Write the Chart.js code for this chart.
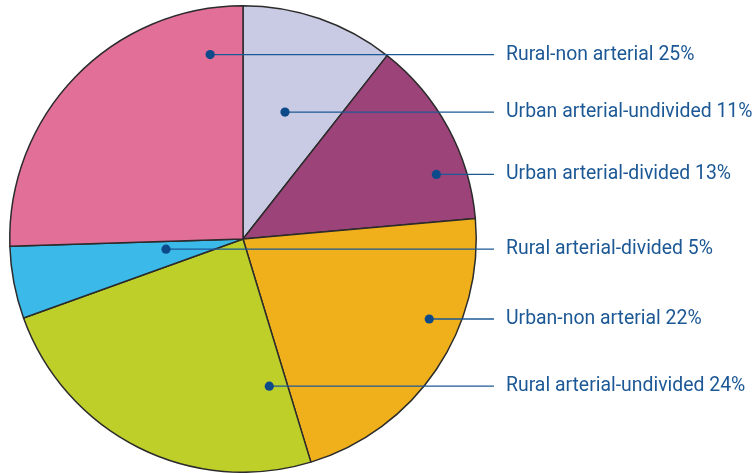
<!DOCTYPE html>
<html>
<head>
<meta charset="utf-8">
<script src="https://cdn.jsdelivr.net/npm/chart.js@4.4.1/dist/chart.umd.min.js"></script>
<style>
  html, body { margin: 0; padding: 0; background: #ffffff; }
  #wrap { width: 754px; height: 473px; position: relative; }
</style>
</head>
<body>
<div id="wrap"><canvas id="crashChart"></canvas></div>
<script>
// Crash share by road type
const categories = [
    'Urban arterial-undivided',
    'Urban arterial-divided',
    'Urban-non arterial',
    'Rural arterial-undivided',
    'Rural arterial-divided',
    'Rural-non arterial'
];
// slice sizes as drawn (%), and the rounded values printed in the labels
const shares = [10.6, 13.0, 21.7, 24.2, 5.0, 25.5];
const labelPercents = [11, 13, 22, 24, 5, 25];
const sliceColors = ['#c9cae3', '#9c4379', '#f0b01b', '#bfcf2a', '#3bb9e9', '#e16f98'];

// order in which labels are stacked on the right
const labelOrder = [5, 0, 1, 4, 2, 3];

// where the leader dot sits inside each slice: [fraction of slice angle, fraction of radius]
const dotPlacement = [
    [0.48, 0.573],
    [0.713, 0.874],
    [0.362, 0.869],
    [0.078, 0.641],
    [0.68, 0.333],
    [0.89, 0.803]
];

const LABEL_X = 506;
const LINE_END_X = 494;
const TEXT_SCALE = 0.97;
const navy = '#1c5895';

const leaderLabels = {
    id: 'leaderLabels',
    afterDatasetsDraw(chart) {
        const ctx = chart.ctx;
        const arcs = chart.getDatasetMeta(0).data;
        ctx.save();
        labelOrder.forEach(i => {
            const p = arcs[i].getProps(['x', 'y', 'startAngle', 'endAngle', 'outerRadius'], true);
            const [af, rf] = dotPlacement[i];
            const ang = p.startAngle + (p.endAngle - p.startAngle) * af;
            const dx = p.x + Math.cos(ang) * p.outerRadius * rf;
            const dy = p.y + Math.sin(ang) * p.outerRadius * rf;

            ctx.strokeStyle = navy;
            ctx.lineWidth = 1.3;
            ctx.beginPath();
            ctx.moveTo(dx, dy);
            ctx.lineTo(LINE_END_X, dy);
            ctx.stroke();

            ctx.fillStyle = '#0d4a8a';
            ctx.beginPath();
            ctx.arc(dx, dy, 4.6, 0, Math.PI * 2);
            ctx.fill();

            ctx.save();
            ctx.translate(LABEL_X, dy);
            ctx.scale(TEXT_SCALE, 1);
            ctx.fillStyle = navy;
            ctx.font = '20px Roboto, "Liberation Sans", sans-serif';
            ctx.textAlign = 'left';
            ctx.textBaseline = 'middle';
            ctx.fillText(categories[i] + ' ' + labelPercents[i] + '%', 0, 0);
            ctx.restore();
        });
        ctx.restore();
    }
};

new Chart(document.getElementById('crashChart'), {
    type: 'pie',
    data: {
        labels: categories,
        datasets: [{
            data: shares,
            backgroundColor: sliceColors,
            borderColor: '#2b2b2b',
            borderWidth: 1.5
        }]
    },
    options: {
        responsive: true,
        maintainAspectRatio: false,
        animation: false,
        layout: {
            padding: { left: 9, top: 5, right: 277, bottom: 0 }
        },
        plugins: {
            legend: { display: false },
            tooltip: { enabled: false }
        }
    },
    plugins: [leaderLabels]
});
</script>
</body>
</html>
